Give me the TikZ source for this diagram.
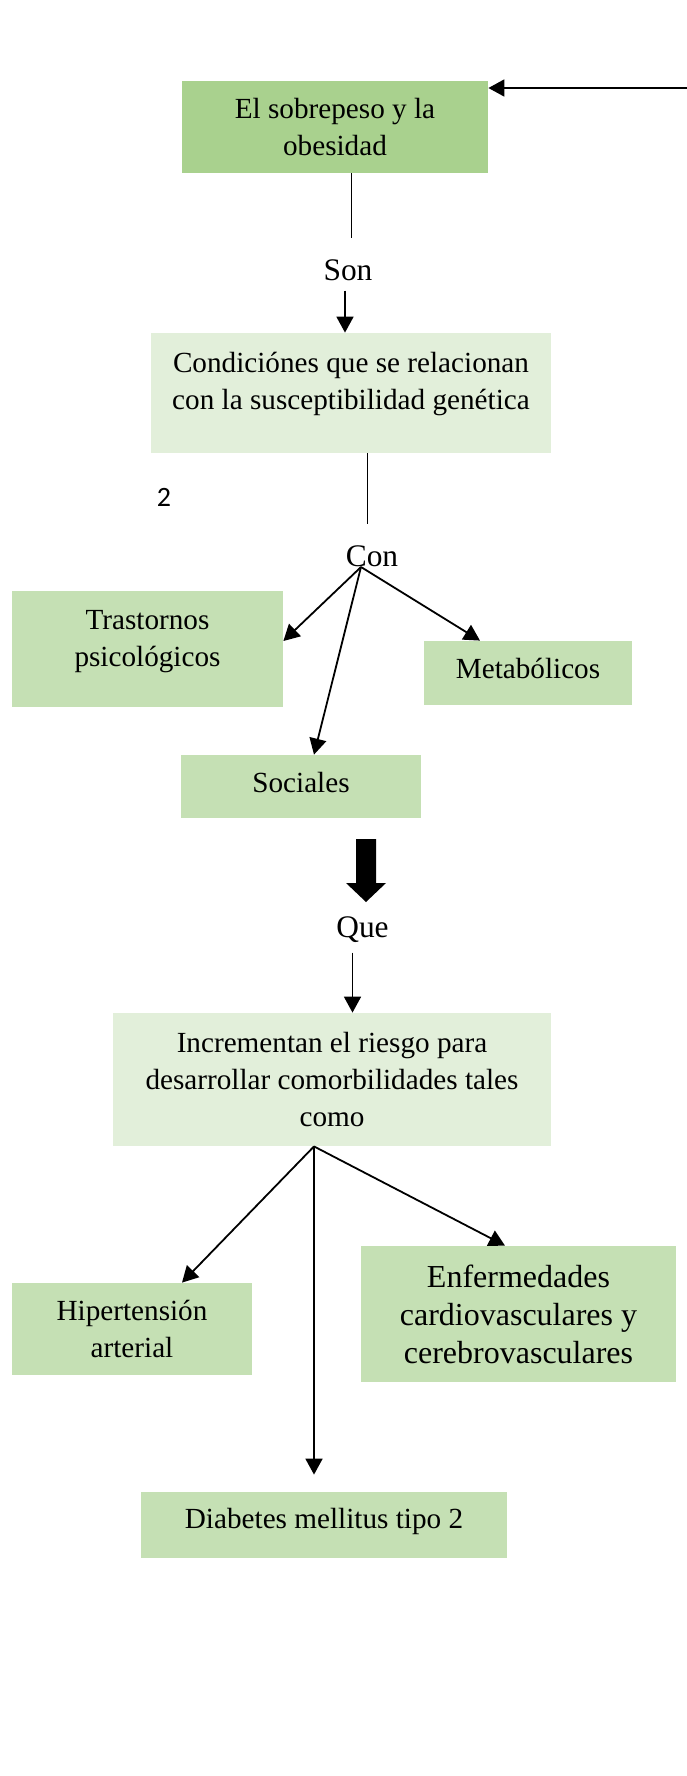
\documentclass[tikz,border=0pt]{standalone}
\usepackage{fontspec}
\setmainfont{Liberation Serif}
\newfontfamily\calibri{Carlito}
\usepackage{tikz}
\usetikzlibrary{arrows.meta}

\definecolor{verdeoscuro}{HTML}{A9D18E}
\definecolor{verdemedio}{HTML}{C5E0B4}
\definecolor{verdeclaro}{HTML}{E2EFDA}

\begin{document}
\begin{tikzpicture}[x=0.5pt,y=-0.5pt]
            \tikzstyle{caja}=[fill=verdemedio,inner sep=0pt,align=center,
            font=\fontsize{14.6}{18.5}\selectfont]
            \tikzstyle{conector}=[inner sep=5pt,anchor=base,font=\fontsize{15.7}{18}\selectfont]
            \tikzstyle{flecha}=[line width=0.9pt,-{Triangle[length=8pt,width=8.5pt]}]
            \tikzstyle{linea}=[line width=0.5pt]

            \useasboundingbox (0,0) rectangle (686,1776);

            \node [caja,fill=verdeoscuro,minimum width=153pt,minimum height=46pt] (obesidad) at (335,127) {El sobrepeso y la\\obesidad};
            \node [conector] (son) at (348,280) {Son};
            \node [caja,fill=verdeclaro,minimum width=200pt,minimum height=60pt] (cond) at (351,393) {};
            \node [caja,fill=none] (condtexto) at (351,384) {Condiciónes que se relacionan\\con la susceptibilidad genética};
            \node [inner sep=0pt,font=\calibri\fontsize{14}{16}\selectfont] (nota) at (164,497.5) {2};
            \node [conector] (con) at (372,566) {Con};
            \node [caja,minimum width=135.5pt,minimum height=58pt] (trastornos) at (147.5,649) {};
            \node [caja,fill=none] (trastornostexto) at (147.5,642) {Trastornos\\psicológicos};
            \node [caja,minimum width=104pt,minimum height=32pt,text depth=4.5pt] (metabolicos) at (528,673) {Metabólicos};
            \node [caja,minimum width=120pt,minimum height=31.5pt,text depth=4.5pt] (sociales) at (301,786.5) {Sociales};
            \node [conector] (que) at (362.5,937) {Que};
            \node [caja,fill=verdeclaro,minimum width=219pt,minimum height=66.5pt] (incrementan) at (332,1079.5) {Incrementan el riesgo para\\desarrollar comorbilidades tales\\como};
            \node [caja,minimum width=120pt,minimum height=46pt] (hipertension) at (132,1329) {Hipertensión\\arterial};
            \node [caja,minimum width=157.5pt,minimum height=68pt,font=\fontsize{16}{19}\selectfont] (enfermedades) at (518.5,1314) {Enfermedades\\cardiovasculares y\\cerebrovasculares};
            \node [caja,minimum width=183pt,minimum height=33pt,text depth=6.5pt] (diabetes) at (324,1525) {Diabetes mellitus tipo 2};

            \coordinate (entrada) at (690,88);
            \coordinate (ramas) at ([xshift=-5.5pt,yshift=-0.5pt]con.base);
            \coordinate (ramas2) at ([xshift=-9pt]incrementan.south);

            \draw [flecha] (entrada) -- (entrada -| obesidad.east);
            \draw [linea] ([xshift=8pt]obesidad.south) -- ++(0,65);
            \draw [flecha] ([xshift=-1.5pt]son.south) -- ([xshift=-1.5pt]son.south |- cond.north);
            \draw [linea] ([xshift=8pt]cond.south) -- ++(0,71);
            \draw [flecha] (ramas) -- ([yshift=4pt]trastornos.east);
            \draw [flecha] (ramas) -- ([xshift=6.5pt]sociales.north);
            \draw [flecha] (ramas) -- ([xshift=-24pt]metabolicos.north);
            \fill (356,839) -- (376,839) -- (376,883) -- (386,883) -- (366,902) -- (346,883) -- (356,883) -- cycle;
            \draw [flecha] ([xshift=-5pt]que.south) -- ([xshift=-5pt]que.south |- incrementan.north);
            \draw [flecha] (ramas2) -- ([xshift=25pt]hipertension.north);
            \draw [flecha] (ramas2) -- ([xshift=-6.75pt]enfermedades.north);
            \draw [flecha,shorten >=8.5pt] (ramas2) -- (ramas2 |- diabetes.north);
        \end{tikzpicture}
\end{document}
